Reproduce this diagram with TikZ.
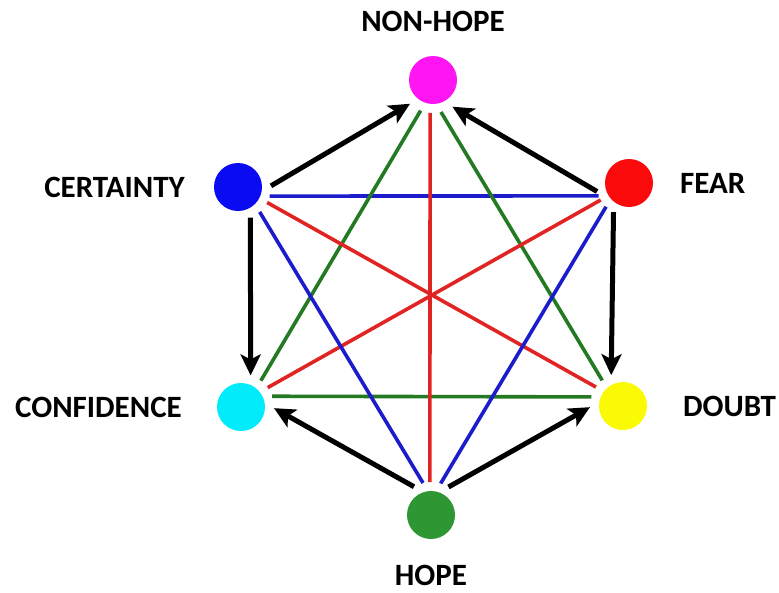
\documentclass[tikz,border=0pt]{standalone}
\usepackage{fontspec}
\setmainfont{Carlito}
\usetikzlibrary{positioning,arrows.meta}

\definecolor{nhcol}{HTML}{FF14F2}
\definecolor{crtcol}{HTML}{0B0BF2}
\definecolor{fearcol}{HTML}{FA0A0A}
\definecolor{confcol}{HTML}{00ECFA}
\definecolor{doubtcol}{HTML}{FAFA05}
\definecolor{hopecol}{HTML}{2E9632}
\definecolor{redln}{HTML}{E02424}
\definecolor{blueln}{HTML}{1C1CCC}
\definecolor{greenln}{HTML}{237A23}

\begin{document}
\begin{tikzpicture}[x=1pt,y=-1pt,
  every node/.style={font=\fontsize{31}{36}\selectfont\bfseries},
  dot/.style={circle,minimum size=48pt,inner sep=0pt,outer sep=9pt},
  lbl/.style={inner sep=0pt},
  link/.style={line width=3.6pt},
  arr/.style={line width=5pt,-{Stealth[length=21pt,width=20pt,inset=5pt]}}]
  \useasboundingbox (0,0) rectangle (779,592);

  \node[dot,fill=nhcol] (nonhope) at (433,80) {};
  \node[dot,fill=crtcol] (cert) at (238,187) {};
  \node[dot,fill=fearcol] (fear) at (629,183) {};
  \node[dot,fill=confcol] (conf) at (241,407) {};
  \node[dot,fill=doubtcol] (doubt) at (623,406) {};
  \node[dot,fill=hopecol] (hope) at (431,515) {};

  \node[lbl,above=15pt of nonhope] (lnonhope) {NON-HOPE};
  \node[lbl,left=20pt of cert] (lcert) {CERTAINTY};
  \node[lbl,right=18pt of fear] (lfear) {FEAR};
  \node[lbl,left=26pt of conf] (lconf) {CONFIDENCE};
  \node[lbl,right=27pt of doubt] (ldoubt) {DOUBT};
  \node[lbl,below=17pt of hope] (lhope) {HOPE};

  \draw[link,blueln] (cert.-16) -- (fear.203);
  \draw[link,greenln] (conf.19) -- (doubt.164);
  \draw[link,redln] (nonhope.-95) -- (hope.92);
  \draw[link,greenln] (nonhope.248) -- (conf.53);
  \draw[link,greenln] (nonhope.-76) -- (doubt.129);
  \draw[link,redln] (cert.-28) -- (doubt.145);
  \draw[link,redln] (fear.211) -- (conf.36);
  \draw[link,blueln] (cert.-49) -- (hope.104);
  \draw[link,blueln] (fear.226) -- (hope.73);

  \draw[arr] (cert.2) -- (nonhope.226);
  \draw[arr] (fear.195) -- (nonhope.-54);
  \draw[arr] (cert.-68) -- (conf.73);
  \draw[arr] (fear.242) -- (doubt.111);
  \draw[arr] (hope.121) -- (conf.-2);
  \draw[arr] (hope.58) -- (doubt.182);
\end{tikzpicture}
\end{document}
